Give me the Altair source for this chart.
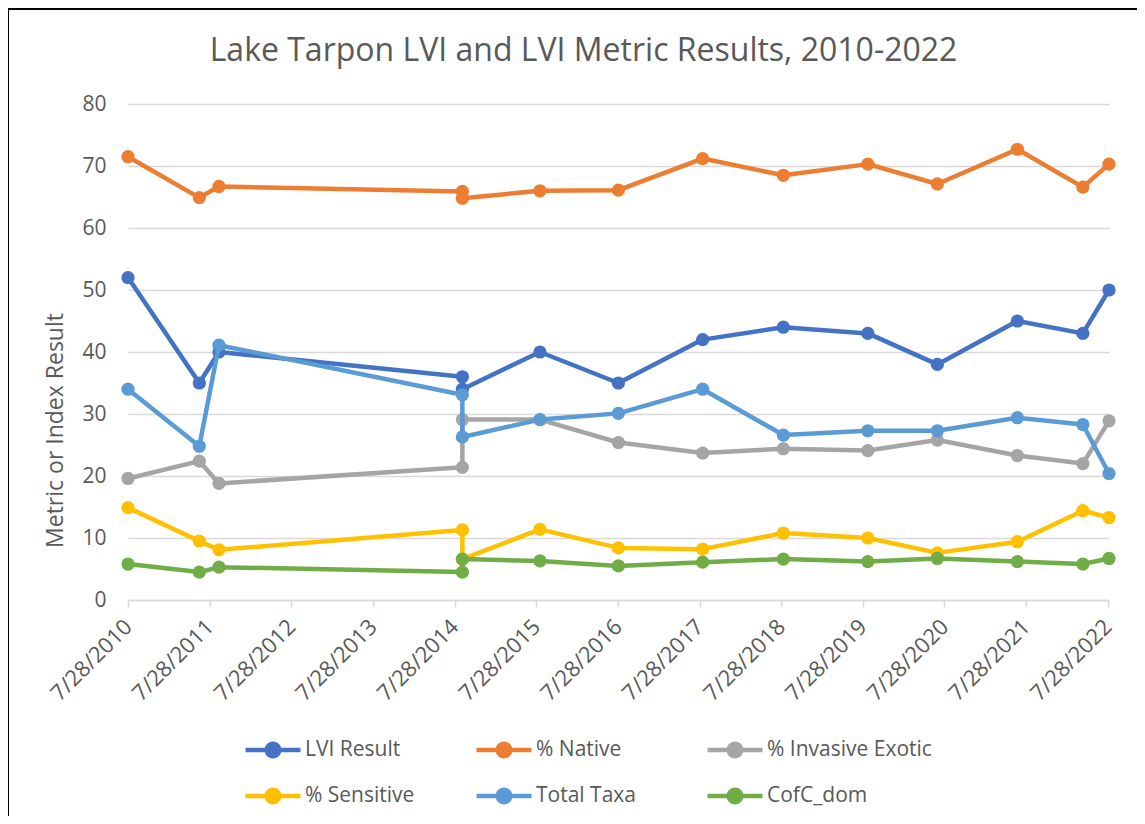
import altair as alt
import pandas as pd

# ---------------- data ----------------
sample_dates = [
    "2010-07-28", "2011-06-12", "2011-09-08", "2014-09-01", "2014-09-01",
    "2015-08-14", "2016-07-30", "2017-08-11", "2018-08-07", "2019-08-20",
    "2020-06-26", "2021-06-19", "2022-04-08", "2022-08-03",
]
lvi_result = [52, 35, 40, 36, 34, 40, 35, 42, 44, 43, 38, 45, 43, 50]
pct_native = [71.5, 64.9, 66.7, 65.9, 64.8, 66.0, 66.1, 71.2, 68.5, 70.3, 67.1, 72.7, 66.6, 70.3]
pct_invasive_exotic = [19.6, 22.4, 18.8, 21.4, 29.1, 29.1, 25.4, 23.7, 24.4, 24.1, 25.8, 23.3, 22.0, 28.9]
pct_sensitive = [14.9, 9.5, 8.1, 11.3, 6.6, 11.4, 8.4, 8.2, 10.8, 10.0, 7.6, 9.4, 14.4, 13.3]
total_taxa = [34.0, 24.8, 41.1, 33.1, 26.3, 29.1, 30.1, 34.0, 26.6, 27.3, 27.3, 29.4, 28.3, 20.4]
cofc_dom = [5.8, 4.5, 5.3, 4.5, 6.6, 6.3, 5.5, 6.1, 6.6, 6.2, 6.7, 6.2, 5.8, 6.7]

series_names = ["LVI Result", "% Native", "% Invasive Exotic", "% Sensitive", "Total Taxa", "CofC_dom"]
series_values = [lvi_result, pct_native, pct_invasive_exotic, pct_sensitive, total_taxa, cofc_dom]
series_colors = ["#4472C4", "#ED7D31", "#A5A5A5", "#FFC000", "#5B9BD5", "#70AD47"]
tick_years = list(range(2010, 2023))
y_ticks = [0, 10, 20, 30, 40, 50, 60, 70, 80]

rows = []
for name, vals in zip(series_names, series_values):
    for i, (d, v) in enumerate(zip(sample_dates, vals)):
        rows.append({"series": name, "date": d, "value": v, "seq": i})
df = pd.DataFrame(rows)

# ---------------- style ----------------
FONT = "Open Sans"
TEXT = "#595959"
GRID = "#D9D9D9"
W, H = 981, 496
PAD = {"left": 120, "top": 96, "right": 28, "bottom": 216}

LEGEND_SYMBOL = (
    "M-1.375,-0.1125L1.375,-0.1125L1.375,0.1125L-1.375,0.1125Z"
    "M-0.425,0A0.425,0.425,0,1,1,0.425,0A0.425,0.425,0,1,1,-0.425,0Z"
)

color_scale = alt.Scale(domain=series_names, range=series_colors)
color_legend = alt.Color(
    "series:N",
    scale=color_scale,
    legend=alt.Legend(
        title=None, orient="none", legendX=125, legendY=626,
        direction="horizontal", columns=3, gridAlign="all",
        columnPadding=6, rowPadding=16,
        symbolType=LEGEND_SYMBOL, symbolSize=1600, symbolStrokeWidth=0,
        symbolOpacity=1,
        labelOffset=12, labelFont=FONT, labelFontSize=21, labelColor=TEXT,
        labelLimit=400,
    ),
)

x = alt.X(
    "date:T",
    scale=alt.Scale(
        type="utc",
        domain=[alt.DateTime(year=2010, month=7, date=28, utc=True),
                alt.DateTime(year=2022, month=8, date=3, utc=True)],
    ),
    axis=alt.Axis(
        title=None,
        values=[alt.DateTime(year=yr, month=7, date=28, utc=True) for yr in tick_years],
        format="%-m/%-d/%Y", labelAngle=-45, labelAlign="right", labelBaseline="middle",
        labelPadding=16, labelFont=FONT, labelFontSize=22, labelColor=TEXT,
        labelOverlap=False, labelFlush=False, labelBound=False,
        grid=False, domainColor=GRID, domainWidth=1.5,
        tickColor=GRID, tickWidth=1.5, tickSize=7,
    ),
)

y = alt.Y(
    "value:Q",
    scale=alt.Scale(domain=[0, 80], nice=False),
    axis=alt.Axis(
        title="Metric or Index Result", values=y_ticks,
        grid=True, gridColor=GRID, gridWidth=1.5, domain=False, ticks=False,
        labelPadding=22, labelFont=FONT, labelFontSize=21, labelColor=TEXT,
        titleFont=FONT, titleFontSize=23, titleFontWeight="normal", titleColor=TEXT,
        titleAngle=-90, titleX=-73, titleY=326, titleAlign="center", titleBaseline="middle",
    ),
)

layers = []
for name in series_names:
    base = alt.Chart(df).transform_filter(alt.datum.series == name)
    line = base.mark_line(strokeWidth=4.5, strokeCap="round", strokeJoin="round").encode(
        x=x, y=y, color=color_legend, order="seq:Q"
    )
    pts = base.mark_circle(size=175, opacity=1).encode(x=x, y=y, color=color_legend)
    layers += [line, pts]

frame_df = pd.DataFrame({"k": [0]})
border_v = alt.Chart(frame_df).mark_rule(color="black", strokeWidth=2).encode(
    x=alt.value(-120), y=alt.value(-96), y2=alt.value(H + PAD["bottom"])
)
border_h = alt.Chart(frame_df).mark_rule(color="black", strokeWidth=2).encode(
    y=alt.value(-95), x=alt.value(-120), x2=alt.value(W + PAD["right"])
)

chart = alt.layer(*layers, border_v, border_h).properties(
    width=W, height=H,
    title=alt.TitleParams(
        text="Lake Tarpon LVI and LVI Metric Results, 2010-2022",
        font=FONT, fontSize=32, fontWeight="normal", color=TEXT,
        anchor="middle", frame="group", baseline="alphabetic", offset=-86, dx=-35,
    ),
    autosize=alt.AutoSizeParams(type="none"),
    padding=PAD,
).configure_view(stroke=None)

chart.save("out.html", embed_options={"renderer": "svg", "actions": False})
